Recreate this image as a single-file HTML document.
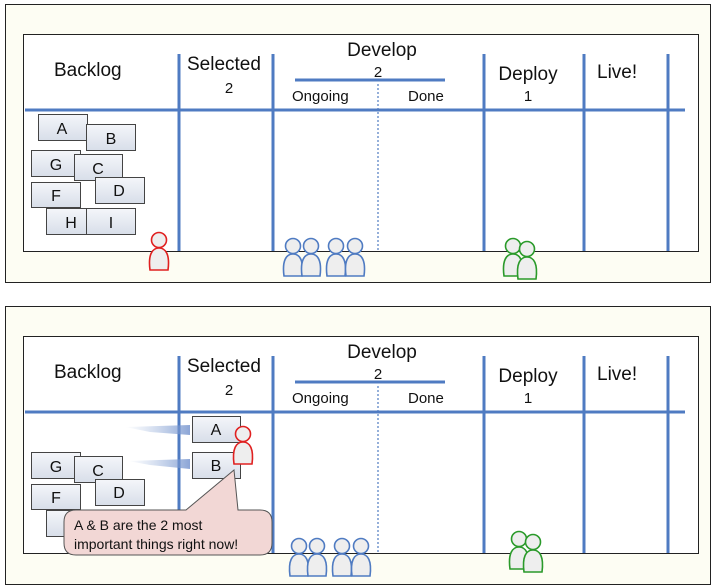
<!DOCTYPE html>
<html><head><meta charset="utf-8"><style>
html,body{margin:0;padding:0;background:#fff;}
svg{display:block;}
text{font-family:"Liberation Sans",sans-serif;fill:#111;}
.h{font-size:19px;}
.s{font-size:15px;}
.c{font-size:16px;text-anchor:middle;}
</style></head><body>
<svg width="717" height="585" viewBox="0 0 717 585" xmlns="http://www.w3.org/2000/svg">
<defs>
<linearGradient id="cg" x1="0" y1="0" x2="0" y2="1"><stop offset="0" stop-color="#f4f6fa"/><stop offset="1" stop-color="#d8dee9"/></linearGradient>
<linearGradient id="ar" x1="0" y1="0" x2="1" y2="0"><stop offset="0" stop-color="#9fb6dc" stop-opacity="0"/><stop offset="1" stop-color="#6f8fcc"/></linearGradient>
<symbol id="person" viewBox="0 0 22 40" overflow="visible">
<path d="M2,39 C0,24 4,17 11,17 C18,17 22,24 20,39 Z" fill="#eee" stroke="currentColor" stroke-width="1.6"/>
<circle cx="11" cy="9" r="7.5" fill="#eee" stroke="currentColor" stroke-width="1.6"/>
</symbol>
<g id="board">
<rect x="5.5" y="4.5" width="705" height="278" fill="#fdfdf3" stroke="#222" stroke-width="1"/>
<rect x="23.5" y="34.5" width="675" height="217" fill="#fff" stroke="#222" stroke-width="1"/>
<g stroke="#4f7bc2" stroke-width="3">
<line x1="25" y1="110" x2="685" y2="110"/>
<line x1="179" y1="54" x2="179" y2="251"/>
<line x1="273" y1="54" x2="273" y2="251"/>
<line x1="484" y1="54" x2="484" y2="251"/>
<line x1="584" y1="54" x2="584" y2="251"/>
<line x1="668" y1="54" x2="668" y2="251"/>
<line x1="295" y1="80" x2="445" y2="80"/>
</g>
<line x1="378" y1="84" x2="378" y2="251" stroke="#4f7bc2" stroke-width="1.2" stroke-dasharray="2,2"/>
</g>
</defs>

<g>
<use href="#board"/>
<text class="h" x="54" y="76">Backlog</text>
<text class="h" x="187" y="70">Selected</text>
<text class="s" x="229" y="93" text-anchor="middle">2</text>
<text class="h" x="382" y="56" text-anchor="middle">Develop</text>
<text class="s" x="378" y="77" text-anchor="middle">2</text>
<text class="s" x="292" y="101">Ongoing</text>
<text class="s" x="408" y="101">Done</text>
<text class="h" x="528" y="80" text-anchor="middle">Deploy</text>
<text class="s" x="528" y="101" text-anchor="middle">1</text>
<text class="h" x="597" y="78">Live!</text>
<g stroke="#444" stroke-width="1" fill="url(#cg)">
<rect x="38.5" y="114.5" width="49" height="26"/>
<rect x="86.5" y="124.5" width="49" height="26"/>
<rect x="31.5" y="150.5" width="49" height="26"/>
<rect x="74.5" y="154.5" width="48" height="26"/>
<rect x="95.5" y="177.5" width="49" height="26"/>
<rect x="31.5" y="182.5" width="49" height="25"/>
<rect x="46.5" y="208.5" width="40" height="26"/>
<rect x="86.5" y="208.5" width="49" height="26"/>
</g>
<text class="c" x="62" y="134">A</text><text class="c" x="111" y="144">B</text>
<text class="c" x="56" y="170">G</text><text class="c" x="98" y="174">C</text>
<text class="c" x="119" y="196">D</text><text class="c" x="56" y="201">F</text>
<text class="c" x="71" y="228">H</text><text class="c" x="111" y="228">I</text>
<g color="#e02020"><use href="#person" x="148" y="231" width="22" height="40"/></g>
<g color="#4f7bc2">
<use href="#person" x="282" y="237" width="22" height="40"/><use href="#person" x="300" y="237" width="22" height="40"/>
<use href="#person" x="325" y="237" width="22" height="40"/><use href="#person" x="344" y="237" width="22" height="40"/>
</g>
<g color="#2a9a2a">
<use href="#person" x="502" y="237" width="22" height="40"/><use href="#person" x="516" y="240" width="22" height="40"/>
</g>
</g>

<g>
<g transform="translate(0,302)"><use href="#board"/></g>
<text class="h" x="54" y="378">Backlog</text>
<text class="h" x="187" y="372">Selected</text>
<text class="s" x="229" y="395" text-anchor="middle">2</text>
<text class="h" x="382" y="358" text-anchor="middle">Develop</text>
<text class="s" x="378" y="379" text-anchor="middle">2</text>
<text class="s" x="292" y="403">Ongoing</text>
<text class="s" x="408" y="403">Done</text>
<text class="h" x="528" y="382" text-anchor="middle">Deploy</text>
<text class="s" x="528" y="403" text-anchor="middle">1</text>
<text class="h" x="597" y="380">Live!</text>
<polygon points="125,427 190,425 190,435 150,432" fill="url(#ar)" opacity="0.8"/>
<polygon points="128,461 190,459 190,469 150,465" fill="url(#ar)" opacity="0.8"/>
<g stroke="#444" stroke-width="1" fill="url(#cg)">
<rect x="31.5" y="452.5" width="49" height="26"/>
<rect x="74.5" y="456.5" width="48" height="26"/>
<rect x="95.5" y="479.5" width="49" height="26"/>
<rect x="31.5" y="484.5" width="49" height="25"/>
<rect x="46.5" y="510.5" width="40" height="26"/>
<rect x="86.5" y="510.5" width="49" height="26"/>
<rect x="192.5" y="416.5" width="48" height="26"/>
<rect x="192.5" y="452.5" width="48" height="26"/>
</g>
<text class="c" x="56" y="472">G</text><text class="c" x="98" y="476">C</text>
<text class="c" x="119" y="498">D</text><text class="c" x="56" y="503">F</text>
<text class="c" x="216" y="435">A</text><text class="c" x="216" y="471">B</text>
<g color="#e02020"><use href="#person" x="232" y="425" width="22" height="40"/></g>
<path d="M88,510 L186,510 L234,470 L238,510 L260,510 Q272,510 272,522 L272,543 Q272,555 260,555 L76,555 Q64,555 64,543 L64,522 Q64,510 76,510 Z" fill="#f2d7d5" stroke="#555" stroke-width="1"/>
<text x="74" y="530" font-size="14">A &amp; B are the 2 most</text>
<text x="74" y="549" font-size="14">important things right now!</text>
<g color="#4f7bc2">
<use href="#person" x="288" y="537" width="22" height="40"/><use href="#person" x="306" y="537" width="22" height="40"/>
<use href="#person" x="331" y="537" width="22" height="40"/><use href="#person" x="350" y="537" width="22" height="40"/>
</g>
<g color="#2a9a2a">
<use href="#person" x="508" y="530" width="22" height="40"/><use href="#person" x="522" y="533" width="22" height="40"/>
</g>
</g>
</svg>
</body></html>
